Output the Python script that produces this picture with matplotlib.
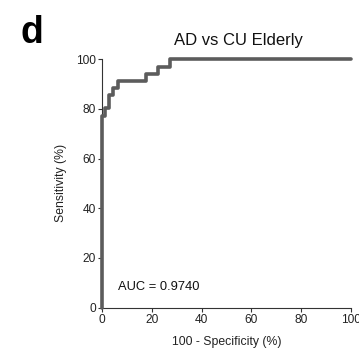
import matplotlib
matplotlib.use('Agg')
import matplotlib.pyplot as plt

plt.rcParams['font.family'] = ['Liberation Sans', 'DejaVu Sans']

# ROC vertices (100 - specificity, sensitivity), in %
fpr = [0, 1.4, 2.8, 4.6, 6.5, 17.6, 22.6, 27.5, 100]
tpr = [0, 77, 80.5, 85.5, 88.5, 91.2, 94.2, 97, 100]
ticks = [0, 20, 40, 60, 80, 100]
title = 'AD vs CU Elderly'
auc_text = 'AUC = 0.9740'

fig = plt.figure(figsize=(3.59, 3.54), dpi=100)
ax = fig.add_axes([0.284, 0.131, 0.694, 0.702])

ax.plot(fpr, tpr, drawstyle='steps-pre', color='#5c5c5c', lw=2.6,
        solid_capstyle='round', clip_on=False, zorder=3)

ax.set_xlim(0, 100)
ax.set_ylim(0, 100)
ax.set_xticks(ticks)
ax.set_yticks(ticks)
ax.tick_params(length=3, width=0.8, color='#333333', labelsize=8.6,
               labelcolor='#222222', pad=1.5)
for s in ['top', 'right']:
    ax.spines[s].set_visible(False)
for s in ['left', 'bottom']:
    ax.spines[s].set_linewidth(0.8)
    ax.spines[s].set_color('#333333')

ax.set_xlabel('100 - Specificity (%)', fontsize=8.8, color='#222222', labelpad=7)
ax.set_ylabel('Sensitivity (%)', fontsize=8.8, color='#222222', labelpad=6)

ax.text(6.5, 8.4, auc_text, fontsize=9.3, va='center', ha='left', color='#111111')

fig.text(0.663, 0.873, title, fontsize=12, ha='center', va='baseline', color='#111111')
fig.text(0.056, 0.879, 'd', fontsize=27, fontweight='bold', ha='left', va='baseline')

fig.savefig('out.png', dpi=100)
